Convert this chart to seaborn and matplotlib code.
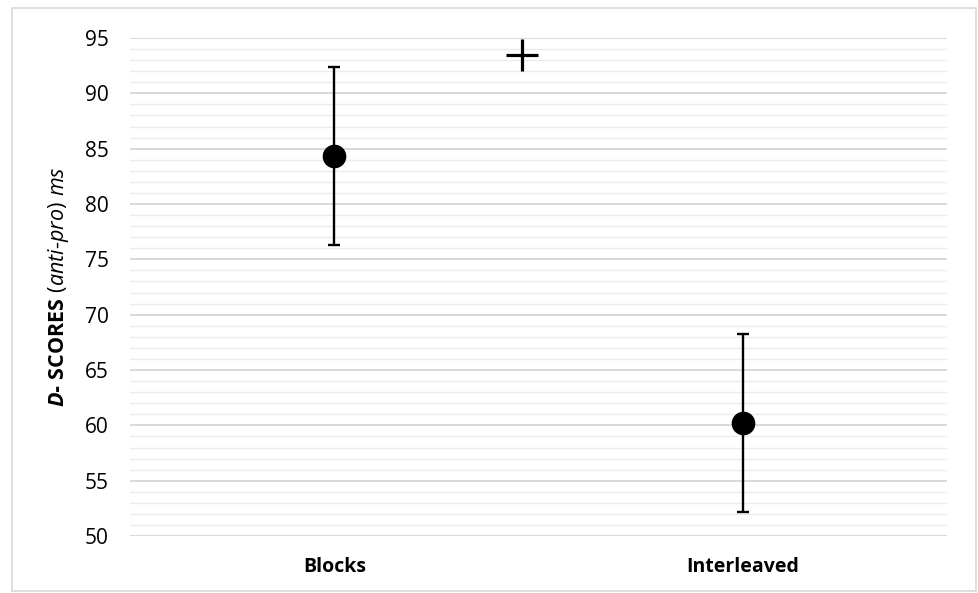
import numpy as np
import pandas as pd
import matplotlib
matplotlib.use("Agg")
import matplotlib.pyplot as plt
import seaborn as sns
from matplotlib.patches import Rectangle

# Data
conditions = ["Blocks", "Interleaved"]
mean_scores = [84.3, 60.2]
error_low = [76.3, 52.2]
error_high = [92.4, 68.3]
sig_marker_y = 93.5  # "+" significance marker between conditions

sns.set_style("white")
plt.rcParams["font.family"] = ["Open Sans", "DejaVu Sans"]
plt.rcParams["text.color"] = "black"
plt.rcParams["axes.labelcolor"] = "black"
plt.rcParams["xtick.color"] = "black"
plt.rcParams["ytick.color"] = "black"
plt.rcParams["mathtext.fontset"] = "custom"
plt.rcParams["mathtext.rm"] = "Open Sans"
plt.rcParams["mathtext.it"] = "Open Sans:italic"
plt.rcParams["mathtext.bf"] = "Open Sans:bold"
plt.rcParams["mathtext.bfit"] = "Open Sans:italic:bold"

df = pd.DataFrame({"condition": conditions, "score": mean_scores,
                   "low": error_low, "high": error_high})
df["pos"] = np.arange(len(df))

fig = plt.figure(figsize=(9.79, 5.93), dpi=100)
ax = fig.add_axes([0.133, 0.096, 0.834, 0.840])

# grid lines: minor every 1, major every 5
ax.set_ylim(50, 95)
ax.set_yticks(np.arange(50, 96, 5))
ax.set_yticks(np.arange(50, 96, 1), minor=True)
ax.grid(axis="y", which="minor", color="#ececec", linewidth=1.0)
ax.grid(axis="y", which="major", color="#d9d9d9", linewidth=1.4)
ax.set_axisbelow(True)

ax.errorbar(df["pos"], df["score"],
            yerr=[df["score"] - df["low"], df["high"] - df["score"]],
            fmt="none", ecolor="black", elinewidth=1.7, capsize=4.5, capthick=1.7, zorder=3)
sns.scatterplot(data=df, x="pos", y="score", color="black", s=290,
                edgecolor="black", linewidth=0, ax=ax, zorder=4)
ax.plot([0.46], [sig_marker_y], marker="+", color="black", markersize=23,
        markeredgewidth=2.3, linestyle="none", zorder=4)

ax.set_xlim(-0.5, 1.5)
ax.set_xticks(df["pos"])
ax.set_xticklabels(conditions, fontsize=14, fontweight="bold")
ax.tick_params(axis="y", labelsize=15, length=0, pad=15.5)
ax.tick_params(axis="x", length=0, pad=15)
ax.set_xlabel("")
ax.set_ylabel(r"$\mathbfit{D}\mathbf{‐\ SCORES}\ \mathit{(anti‐pro)\ ms}$",
              fontsize=15.5, labelpad=10)
for s in ax.spines.values():
    s.set_visible(False)

# light outer frame of the chart area
fig.patches.append(Rectangle((0.012, 0.004), 0.985, 0.982, transform=fig.transFigure,
                             fill=False, edgecolor="#d9d9d9", linewidth=1.2))

fig.savefig("out.png", dpi=100)
